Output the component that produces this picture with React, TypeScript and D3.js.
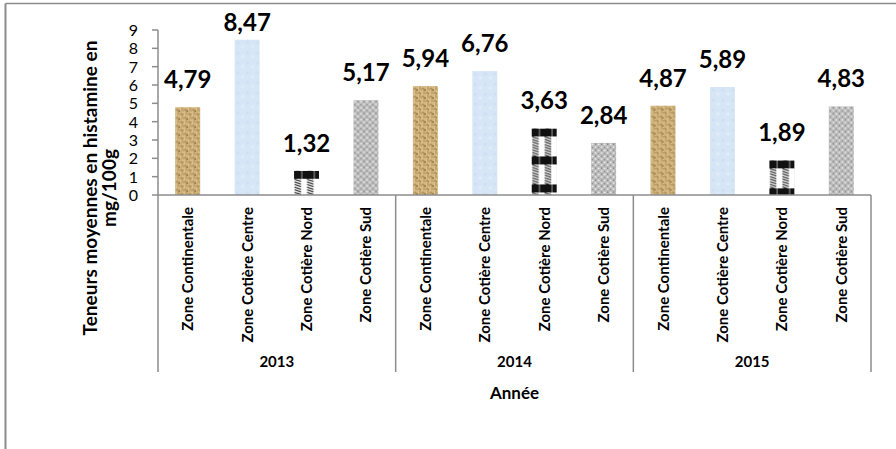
import React from "react";
import * as d3 from "d3";

const years = ["2013", "2014", "2015"];
const zones = ["Zone Continentale", "Zone Cotière Centre", "Zone Cotière Nord", "Zone Cotière Sud"];
const values2013 = [4.79, 8.47, 1.32, 5.17];
const values2014 = [5.94, 6.76, 3.63, 2.84];
const values2015 = [4.87, 5.89, 1.89, 4.83];
const yTicks = [0, 1, 2, 3, 4, 5, 6, 7, 8, 9];
const yTitleLines = ["Teneurs moyennes en histamine en", "mg/100g"];
const xTitle = "Année";

const W = 896;
const H = 449;
const plotLeft = 158;
const plotRight = 871;
const plotBottom = 195;
const plotTop = 30;
const FONT = "Lato, 'Open Sans', sans-serif";
const AXIS = "#8c8c8c";

const patternIds = ["patBurlap", "patBlue", "patPlaid", "patGranite"];

const hatch = (x0: number, x1: number, y0: number, y1: number) => {
  const lines = [];
  for (let yy = y0 - 2; yy < y1; yy += 2.6) {
    lines.push(<line key={yy} x1={x0} y1={yy} x2={x1} y2={yy + 2.2} />);
  }
  return lines;
};

export default function App() {
  const valuesByYear = [values2013, values2014, values2015];
  const x0 = d3.scaleBand<string>().domain(years).range([plotLeft, plotRight]).padding(0);
  const x1 = d3
    .scaleBand<string>()
    .domain(zones)
    .range([0, x0.bandwidth()])
    .paddingInner(0.58)
    .paddingOuter(0.29);
  const y = d3.scaleLinear().domain([0, 9]).range([plotBottom, plotTop]);
  const fmt = (v: number) => d3.format(".2f")(v).replace(".", ",");

  const separators = [plotLeft, ...years.map((yr) => (x0(yr) as number) + x0.bandwidth())];

  return (
    <svg
      width={W}
      height={H}
      style={{ position: "absolute", left: 0, top: 0, background: "#fff" }}
      fontFamily={FONT}
    >
      <defs>
        <pattern id="patBurlap" width="8" height="8" patternUnits="userSpaceOnUse">
          <rect width="8" height="8" fill="#a8834d" />
          <rect x="0" y="0.3" width="4" height="1.4" fill="#ead39c" />
          <rect x="0" y="2.4" width="4" height="1.2" fill="#d6ba80" />
          <rect x="4.4" y="0" width="1.4" height="4" fill="#ead39c" />
          <rect x="6.4" y="0" width="1.2" height="4" fill="#d6ba80" />
          <rect x="0.4" y="4" width="1.4" height="4" fill="#ead39c" />
          <rect x="2.4" y="4" width="1.2" height="4" fill="#d6ba80" />
          <rect x="4" y="4.4" width="4" height="1.4" fill="#ead39c" />
          <rect x="4" y="6.4" width="4" height="1.2" fill="#d6ba80" />
          <rect x="3.5" y="3.4" width="1.2" height="1.2" fill="#553a15" />
          <rect x="7.4" y="7.3" width="0.9" height="0.9" fill="#5e4219" />
          <rect x="1.8" y="1.6" width="0.7" height="1" fill="#735428" />
          <rect x="5.8" y="5.6" width="0.7" height="1" fill="#735428" />
        </pattern>
        <pattern id="patBlue" width="10" height="10" patternUnits="userSpaceOnUse">
          <rect width="10" height="10" fill="#d6e6f6" />
          <circle cx="3" cy="3" r="1.6" fill="#cde0f3" />
          <circle cx="8" cy="7" r="1.8" fill="#e0edf9" />
        </pattern>
        <pattern id="patPlaid" width="12.5" height="28" patternUnits="userSpaceOnUse">
          <rect width="12.5" height="28" fill="#ffffff" />
          <g stroke="#111" strokeWidth="1.1">{hatch(0.5, 7, 0, 28)}</g>
          <rect x="0" y="0" width="12.5" height="8" fill="#111" />
          <rect x="7" y="0" width="1.6" height="8" fill="#666" />
        </pattern>
        <pattern id="patGranite" width="6" height="6" patternUnits="userSpaceOnUse">
          <rect width="6" height="6" fill="#b8b8b8" />
          <circle cx="1.5" cy="1.5" r="1.1" fill="#ececec" />
          <circle cx="4.5" cy="4.2" r="1.1" fill="#e0e0e0" />
          <circle cx="4.6" cy="1.2" r="0.6" fill="#6e6e6e" />
          <circle cx="1.3" cy="4.6" r="0.6" fill="#7a7a7a" />
        </pattern>
      </defs>

      {/* outer frame */}
      <line x1={5.5} y1={3.5} x2={W} y2={3.5} stroke={AXIS} strokeWidth={1.5} />
      <line x1={5.5} y1={3.5} x2={5.5} y2={H} stroke={AXIS} strokeWidth={2} />

      {/* bars */}
      {years.map((yr, gi) =>
        zones.map((z, ci) => {
          const v = valuesByYear[gi][ci];
          const bx = (x0(yr) as number) + (x1(z) as number);
          return (
            <g key={yr + z} transform={`translate(${bx},${y(v)})`}>
              <rect
                x={0}
                y={0}
                width={x1.bandwidth()}
                height={plotBottom - y(v)}
                fill={`url(#${patternIds[ci]})`}
              />
            </g>
          );
        })
      )}

      {/* value labels */}
      {years.map((yr, gi) =>
        zones.map((z, ci) => {
          const v = valuesByYear[gi][ci];
          const cx = (x0(yr) as number) + (x1(z) as number) + x1.bandwidth() / 2;
          const ly = Math.max(y(v) - 19, 31);
          return (
            <text
              key={"l" + yr + z}
              x={cx}
              y={ly}
              textAnchor="middle"
              fontSize={24}
              fontWeight="bold"
              fill="#000"
            >
              {fmt(v)}
            </text>
          );
        })
      )}

      {/* y axis */}
      <line x1={plotLeft} y1={y(9)} x2={plotLeft} y2={plotBottom} stroke={AXIS} strokeWidth={1.5} />
      {yTicks.map((t) => (
        <g key={"t" + t}>
          <line x1={plotLeft - 6} y1={y(t)} x2={plotLeft} y2={y(t)} stroke={AXIS} strokeWidth={1.5} />
          <text x={138} y={y(t) + 6} textAnchor="end" fontSize={16} fill="#000">
            {t}
          </text>
        </g>
      ))}

      {/* x axis */}
      <line x1={plotLeft} y1={plotBottom} x2={plotRight} y2={plotBottom} stroke={AXIS} strokeWidth={1.5} />
      {separators.map((sx, i) => (
        <line key={"s" + i} x1={sx} y1={plotBottom} x2={sx} y2={372} stroke={AXIS} strokeWidth={1.5} />
      ))}

      {/* category labels */}
      {years.map((yr) =>
        zones.map((z) => {
          const cx = (x0(yr) as number) + (x1(z) as number) + x1.bandwidth() / 2;
          return (
            <text
              key={"c" + yr + z}
              transform={`translate(${cx + 5.5},207) rotate(-90)`}
              textAnchor="end"
              fontSize={15}
              fontWeight="bold"
              fill="#000"
            >
              {z}
            </text>
          );
        })
      )}

      {/* year labels */}
      {years.map((yr) => (
        <text
          key={"y" + yr}
          x={(x0(yr) as number) + x0.bandwidth() / 2}
          y={367}
          textAnchor="middle"
          fontSize={15}
          fontWeight="bold"
          fill="#000"
        >
          {yr}
        </text>
      ))}

      {/* axis titles */}
      <text x={(plotLeft + plotRight) / 2} y={399} textAnchor="middle" fontSize={17} fontWeight="bold" fill="#000">
        {xTitle}
      </text>
      <text transform={`translate(97,188) rotate(-90)`} textAnchor="middle" fontSize={19} fontWeight="bold" fill="#000">
        {yTitleLines[0]}
      </text>
      <text transform={`translate(116,188) rotate(-90)`} textAnchor="middle" fontSize={19} fontWeight="bold" fill="#000">
        {yTitleLines[1]}
      </text>
    </svg>
  );
}
